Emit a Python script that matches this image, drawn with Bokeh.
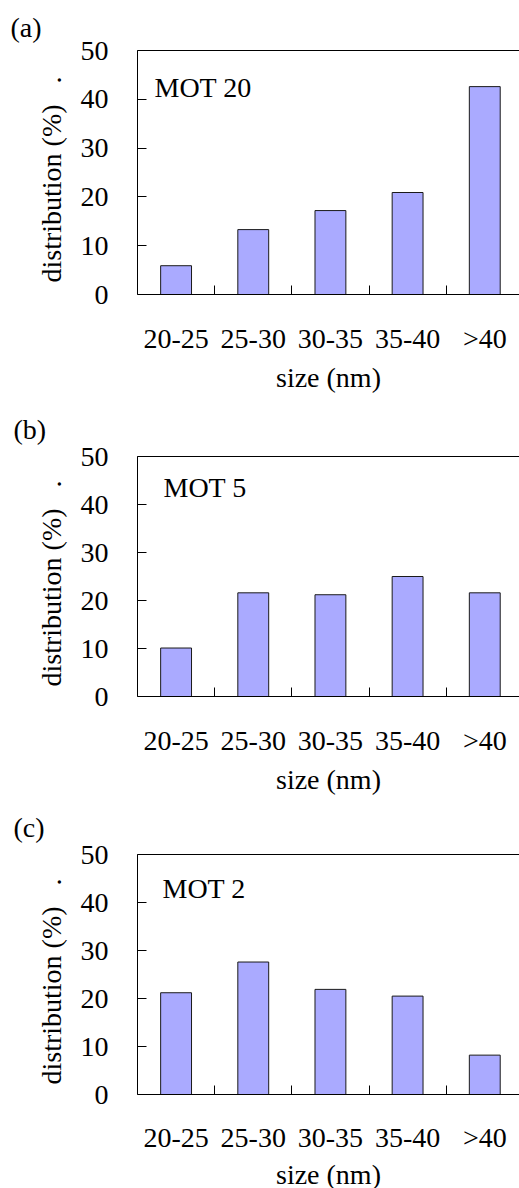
from bokeh.plotting import figure
from bokeh.layouts import column
from bokeh.models import Range1d, FixedTicker, LinearAxis, Label
from bokeh.embed import file_html
from bokeh.resources import INLINE

# ---- data ----
categories = ["20-25", "25-30", "30-35", "35-40", ">40"]
mot20 = [5.9, 13.3, 17.2, 20.9, 42.6]
mot5 = [10.1, 21.6, 21.2, 25.0, 21.6]
mot2 = [21.2, 27.6, 21.9, 20.5, 8.2]
y_ticks = [0, 10, 20, 30, 40, 50]
panel_tags = ["(a)", "(b)", "(c)"]
series_names = ["MOT 20", "MOT 5", "MOT 2"]
x_label = "size (nm)"
y_label = "distribution (%)\u00a0\u00a0\u00a0.\u00a0\u00a0"

# ---- style / layout ----
FONT = "'Liberation Serif', 'Times New Roman', 'DejaVu Serif', serif"
FS = "28px"
FRAME_W = 382
LEFT = 137
XMAX = 4.95
YMAX = 50
BAR_FILL = "#aaaaff"

xs = [i + 0.5 for i in range(len(categories))]
bounds = [i for i in range(1, len(categories))]


def make_panel(values, tag, name, fh, bt, bb, name_dx, name_dy, tag_x, title_so,
               tick_so=22, lab_so=5):
    p = figure(frame_width=FRAME_W, frame_height=fh,
               min_border_left=LEFT, min_border_right=0,
               min_border_top=bt, min_border_bottom=bb,
               x_range=Range1d(0, XMAX), y_range=Range1d(0, YMAX),
               toolbar_location=None, tools="", output_backend="svg")
    p.grid.visible = False
    p.outline_line_color = None
    p.background_fill_color = "white"
    p.border_fill_color = "white"

    p.vbar(x=xs, top=values, width=0.4, bottom=0,
           fill_color=BAR_FILL, line_color="#1a1a1a", line_width=1)

    xa = p.xaxis[0]
    xa.ticker = FixedTicker(ticks=xs, minor_ticks=bounds)
    xa.major_label_overrides = {x: c for x, c in zip(xs, categories)}
    xa.major_tick_line_color = None
    xa.minor_tick_line_color = "black"
    xa.minor_tick_in = 9
    xa.minor_tick_out = 0
    xa.major_label_standoff = tick_so
    xa.axis_label = x_label
    xa.axis_label_standoff = lab_so
    xa.axis_line_color = "black"

    ya = p.yaxis[0]
    ya.ticker = FixedTicker(ticks=y_ticks)
    ya.major_tick_in = 9
    ya.major_tick_out = 0
    ya.minor_tick_line_color = None
    ya.major_label_standoff = 29
    ya.axis_label = y_label
    ya.axis_label_standoff = 11
    ya.axis_line_color = "black"

    for ax in (xa, ya):
        ax.major_label_text_font = FONT
        ax.major_label_text_font_size = FS
        ax.major_label_text_color = "black"
        ax.axis_label_text_font = FONT
        ax.axis_label_text_font_size = FS
        ax.axis_label_text_font_style = "normal"
        ax.axis_label_text_color = "black"

    top = LinearAxis(ticker=FixedTicker(ticks=[]), major_label_text_font_size="0px",
                     major_tick_line_color=None, minor_tick_line_color=None,
                     axis_line_color="black", major_label_standoff=0)
    p.add_layout(top, "above")

    p.title.text = tag
    p.title.align = "left"
    p.title.offset = tag_x - LEFT
    p.title.text_font = FONT
    p.title.text_font_size = FS
    p.title.text_font_style = "normal"
    p.title.text_color = "black"
    p.title.standoff = title_so

    pxu = FRAME_W / XMAX
    pyu = fh / YMAX
    p.add_layout(Label(x=name_dx / pxu, y=YMAX - name_dy / pyu, text=name,
                       text_font=FONT, text_font_size=FS, text_color="black",
                       text_align="left", text_baseline="alphabetic"))
    return p


pa = make_panel(mot20, panel_tags[0], series_names[0], 244, 50, 105, 17, 36.7, 10, 16)
pb = make_panel(mot5, panel_tags[1], series_names[1], 240, 57, 99, 26, 31.0, 13, 23)
pc = make_panel(mot2, panel_tags[2], series_names[2], 240, 57, 96, 25, 33.7, 13, 23,
                tick_so=21, lab_so=3)

layout = column(pa, pb, pc, spacing=0)
open("out.html", "w").write(file_html(layout, INLINE))
